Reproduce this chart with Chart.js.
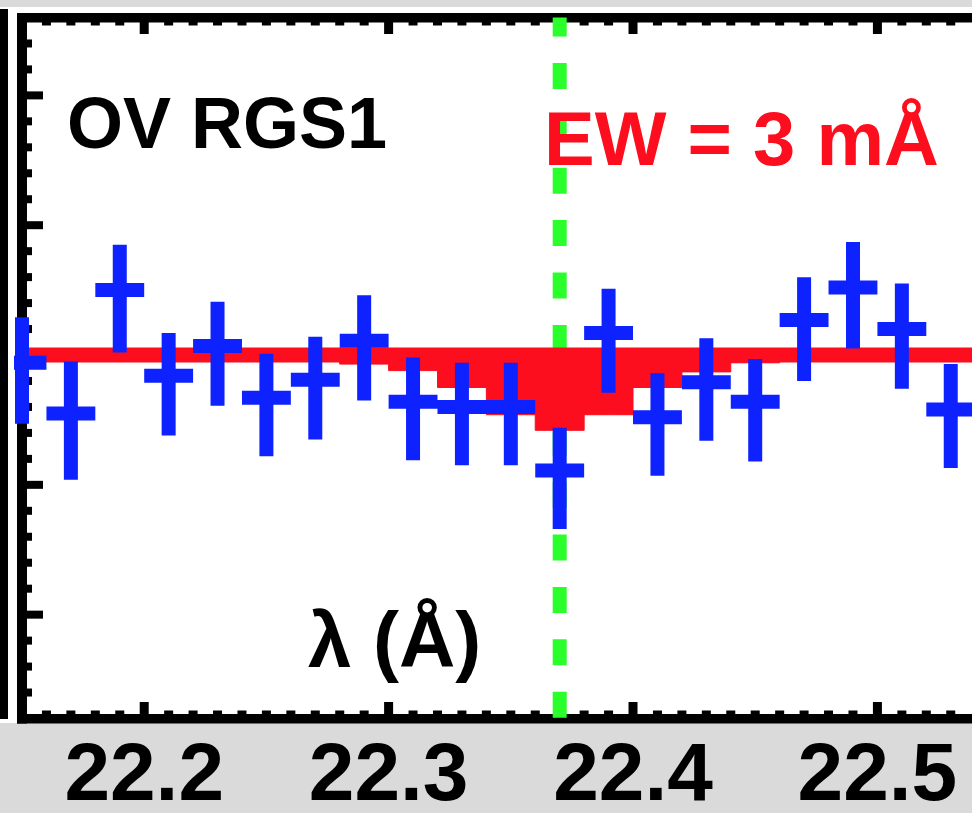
<!DOCTYPE html>
<html>
<head>
<meta charset="utf-8">
<script src="https://cdn.jsdelivr.net/npm/chart.js@4.4.1/dist/chart.umd.min.js"></script>
<style>
    html, body { margin: 0; padding: 0; overflow: hidden; background: #dadada; }
    #wrap { width: 972px; height: 813px; overflow: hidden; }
</style>
</head>
<body>
<div id="wrap"><canvas id="lineChart-ov" width="972" height="813"></canvas></div>
<script>
// O V line, RGS1 spectrum (bin centres in Å, normalised flux)
const wavelengths = [22.15, 22.17, 22.19, 22.21, 22.23, 22.25, 22.27, 22.29, 22.31, 22.33,
                     22.35, 22.37, 22.39, 22.41, 22.43, 22.45, 22.47, 22.49, 22.51, 22.53];
const flux    = [0.994, 0.955, 1.050, 0.984, 1.007, 0.967, 0.981, 1.011, 0.964, 0.960,
                 0.960, 0.911, 1.017, 0.952, 0.979, 0.964, 1.027, 1.052, 1.020, 0.958];
const errUp   = [0.035, 0.040, 0.035, 0.033, 0.034, 0.034, 0.033, 0.035, 0.034, 0.034,
                 0.034, 0.033, 0.034, 0.034, 0.034, 0.033, 0.033, 0.035, 0.035, 0.035];
const errDown = [0.047, 0.051, 0.048, 0.046, 0.046, 0.045, 0.046, 0.046, 0.045, 0.045,
                 0.045, 0.045, 0.046, 0.045, 0.045, 0.046, 0.047, 0.047, 0.046, 0.045];
// absorption model (3 mÅ line)
const model   = [1.000, 1.000, 1.000, 1.000, 1.000, 1.000, 1.000, 0.993, 0.988, 0.975,
                 0.954, 0.942, 0.954, 0.975, 0.987, 0.994, 1.000, 1.000, 1.000, 1.000];
const binHalfWidth = 0.01;
const continuum = 1.0;
const lineCentre = 22.37;

const xTicks = [22.2, 22.3, 22.4, 22.5];
const xRange = [22.15, 22.5387];
const yRange = [0.72, 1.26];
const xMinorStep = 0.01;
const yMinorStep = 0.02;

const blue = '#0d22ff';
const red = '#fc0e1e';
const green = '#2bff2b';

const vBars = [];
const hBars = [];
wavelengths.forEach((w, i) => {
    vBars.push({ x: w, y: flux[i] - errDown[i] }, { x: w, y: flux[i] + errUp[i] }, { x: w, y: null });
    hBars.push({ x: w - binHalfWidth, y: flux[i] }, { x: w + binHalfWidth, y: flux[i] }, { x: w + binHalfWidth, y: null });
});
const modelPts = wavelengths.map((w, i) => ({ x: w, y: model[i] }));
const contPts = [{ x: xRange[0], y: continuum }, { x: xRange[1], y: continuum }];
const greenPts = [{ x: lineCentre, y: yRange[1] }, { x: lineCentre, y: 0.7165 }];

const framePlugin = {
    id: 'frame',
    beforeDraw(chart) {
        const { ctx, width, height } = chart;
        ctx.save();
        ctx.fillStyle = '#dadada';
        ctx.fillRect(0, 0, width, height);
        ctx.fillStyle = '#ffffff';
        ctx.fillRect(0, 7, width, 716);
        // edge of the neighbouring panel
        ctx.fillStyle = '#000';
        ctx.fillRect(0, 9, 8, 710);
        ctx.restore();
    },
    beforeDatasetsDraw(chart) {
        const { ctx, chartArea: a, scales: { x, y } } = chart;
        ctx.save();
        ctx.fillStyle = '#000';
        // frame
        ctx.fillRect(a.left - 5, a.top - 4.5, a.right - a.left + 10, 9.5);
        ctx.fillRect(a.left - 5, a.bottom - 4.5, a.right - a.left + 10, 9.5);
        ctx.fillRect(a.left - 5, a.top - 4.5, 10, a.bottom - a.top + 9.5);
        // x ticks, top and bottom
        const nx = Math.round((xRange[1] - xRange[0]) / xMinorStep);
        for (let k = 0; k <= nx; k++) {
            const v = +(xRange[0] + k * xMinorStep).toFixed(2);
            if (v > xRange[1]) break;
            const px = x.getPixelForValue(v);
            const major = Math.abs(v * 10 - Math.round(v * 10)) < 1e-6;
            const len = major ? 12 : 3.5;
            ctx.fillRect(px - 4.5, a.bottom - 4.5 - len, 9, len);
            ctx.fillRect(px - 4.5, a.top + 4.5, 9, len);
        }
        // y ticks, left
        const ny = Math.round((yRange[1] - yRange[0]) / yMinorStep);
        for (let k = 0; k <= ny; k++) {
            const v = +(yRange[0] + k * yMinorStep).toFixed(2);
            const py = y.getPixelForValue(v);
            const major = Math.abs(v * 10 - Math.round(v * 10)) < 1e-6;
            const len = major ? 16 : 5;
            ctx.fillRect(a.left + 5, py - 4, len, 8);
        }
        ctx.restore();
    }
};

const textPlugin = {
    id: 'labels',
    afterDraw(chart) {
        const { ctx } = chart;
        ctx.save();
        ctx.textBaseline = 'alphabetic';
        ctx.textAlign = 'left';
        ctx.fillStyle = '#000';
        ctx.font = 'bold 72px "Liberation Sans"';
        ctx.fillText('OV RGS1', 67, 148);
        ctx.font = 'bold 78px "Liberation Sans"';
        ctx.fillText('λ (Å)', 308, 667);
        ctx.fillStyle = red;
        ctx.font = 'bold 76px "Liberation Sans"';
        ctx.fillText('EW = 3 mÅ', 544, 165);
        ctx.restore();
    }
};

const lineOpts = { pointRadius: 0, tension: 0, spanGaps: false };

new Chart(document.getElementById('lineChart-ov'), {
    type: 'line',
    data: {
        datasets: [
            { ...lineOpts, data: vBars, borderColor: blue, borderWidth: 14, clip: { left: 8, top: 0, right: 0, bottom: 0 }, order: 0 },
            { ...lineOpts, data: hBars, borderColor: blue, borderWidth: 14, clip: { left: 8, top: 0, right: 0, bottom: 0 }, order: 1 },
            { ...lineOpts, data: modelPts, stepped: 'middle', borderColor: red, borderWidth: 1, backgroundColor: red, fill: { value: continuum }, order: 2 },
            { ...lineOpts, data: contPts, borderColor: red, borderWidth: 15, order: 3 },
            { ...lineOpts, data: greenPts, borderColor: green, borderWidth: 14, borderDash: [26, 26.4], borderDashOffset: 7, clip: false, order: 4 }
        ]
    },
    options: {
        responsive: false,
        animation: false,
        devicePixelRatio: 1,
        layout: { padding: { left: 22, right: 0, top: 17.5, bottom: 0 } },
        scales: {
            x: {
                type: 'linear',
                min: xRange[0],
                max: xRange[1],
                afterBuildTicks: scale => { scale.ticks = xTicks.map(v => ({ value: v })); },
                afterFit: scale => {
                    scale.paddingLeft = 0;
                    scale.paddingRight = 0;
                    scale.height = 94.5;
                },
                grid: { display: false, drawTicks: false },
                border: { display: false },
                ticks: {
                    autoSkip: false,
                    maxRotation: 0,
                    padding: 17.5,
                    color: '#000',
                    font: { family: 'Liberation Sans', weight: 'bold', size: 82, lineHeight: 1 },
                    callback: v => v.toFixed(1)
                }
            },
            y: { display: false, min: yRange[0], max: yRange[1] }
        },
        plugins: {
            legend: { display: false },
            tooltip: { enabled: false }
        }
    },
    plugins: [framePlugin, textPlugin]
});
</script>
</body>
</html>
